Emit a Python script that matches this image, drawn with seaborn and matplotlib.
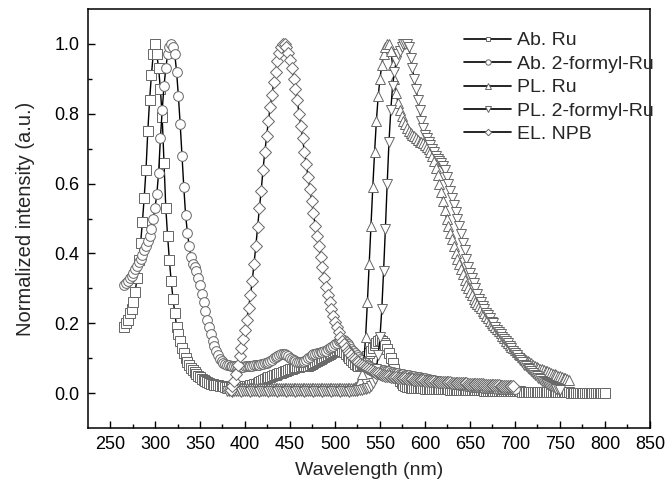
import matplotlib
matplotlib.use('Agg')
import matplotlib.pyplot as plt
import numpy as np
import seaborn as sns
from matplotlib.ticker import FixedLocator

ab_ru_start = 266
ab_ru = [
    0.19, 0.20, 0.21, 0.23, 0.24, 0.26, 0.29, 0.33, 0.38, 0.43, 0.49, 0.56, 0.64, 0.75, 0.84, 0.91, 0.97, 1.0,
    0.97, 0.93, 0.87, 0.79, 0.66, 0.53, 0.45, 0.38, 0.32, 0.27, 0.23, 0.19, 0.17, 0.15, 0.13, 0.115, 0.10, 0.09, 0.08, 0.073,
    0.066, 0.06, 0.055, 0.05, 0.045, 0.041, 0.037, 0.034, 0.031, 0.029, 0.027, 0.025, 0.024, 0.023, 0.022, 0.021, 0.02, 0.02, 0.019, 0.019,
    0.018, 0.018, 0.018, 0.018, 0.018, 0.018, 0.018, 0.019, 0.019, 0.02, 0.02, 0.021, 0.022, 0.023, 0.025, 0.027, 0.03, 0.033, 0.036, 0.039,
    0.041, 0.043, 0.045, 0.047, 0.049, 0.051, 0.053, 0.055, 0.057, 0.058, 0.06, 0.062, 0.064, 0.066, 0.068, 0.07, 0.072, 0.074, 0.075, 0.076,
    0.077, 0.077, 0.077, 0.077, 0.078, 0.08, 0.083, 0.086, 0.089, 0.092, 0.095, 0.098, 0.101, 0.104, 0.107, 0.11, 0.113, 0.116, 0.119, 0.121,
    0.123, 0.124, 0.124, 0.122, 0.118, 0.113, 0.107, 0.1, 0.094, 0.088, 0.083, 0.08, 0.079, 0.08, 0.084, 0.09, 0.098, 0.106, 0.114, 0.122,
    0.13, 0.138, 0.145, 0.15, 0.152, 0.15, 0.145, 0.137, 0.127, 0.115, 0.1, 0.085, 0.07, 0.056, 0.045, 0.036, 0.029, 0.024, 0.02, 0.018,
    0.017, 0.016, 0.016, 0.015, 0.015, 0.015, 0.014, 0.014, 0.014, 0.013, 0.013, 0.013, 0.013, 0.012, 0.012, 0.012, 0.012, 0.012, 0.011, 0.011,
    0.011, 0.011, 0.011, 0.010, 0.010, 0.010, 0.010, 0.010, 0.010, 0.009, 0.009, 0.009, 0.009, 0.009, 0.009, 0.008, 0.008, 0.008, 0.008, 0.008,
    0.008, 0.008, 0.007, 0.007, 0.007, 0.007, 0.007, 0.007, 0.006, 0.006, 0.006, 0.006, 0.006, 0.006, 0.006, 0.005, 0.005, 0.005, 0.005, 0.005,
    0.005, 0.005, 0.005, 0.004, 0.004, 0.004, 0.004, 0.004, 0.004, 0.004, 0.003, 0.003, 0.003, 0.003, 0.003, 0.003, 0.003, 0.003, 0.002, 0.002,
    0.002, 0.002, 0.002, 0.002, 0.002, 0.002, 0.002, 0.002, 0.002, 0.002, 0.001, 0.001, 0.001, 0.001, 0.001, 0.001, 0.001, 0.001, 0.001, 0.001,
    0.001, 0.001, 0.001, 0.001, 0.0, 0.0, 0.0, 0.0, 0.0, 0.0,
]

ab_2f_start = 266
ab_2f = [
    0.31, 0.315, 0.32, 0.33, 0.335, 0.345, 0.355, 0.365, 0.375, 0.385, 0.395, 0.41, 0.42, 0.435, 0.45, 0.47, 0.50, 0.53,
    0.57, 0.63, 0.73, 0.81, 0.88, 0.93, 0.97, 0.99, 1.0, 0.99, 0.97, 0.92, 0.85, 0.77, 0.68, 0.59, 0.51, 0.46, 0.42, 0.39,
    0.37, 0.36, 0.35, 0.33, 0.31, 0.285, 0.26, 0.235, 0.21, 0.19, 0.17, 0.15, 0.135, 0.12, 0.108, 0.098, 0.092, 0.087, 0.084, 0.082,
    0.08, 0.079, 0.078, 0.077, 0.077, 0.076, 0.076, 0.076, 0.076, 0.077, 0.077, 0.078, 0.078, 0.079, 0.08, 0.08, 0.081, 0.082, 0.083, 0.084,
    0.085, 0.087, 0.09, 0.093, 0.096, 0.1, 0.104, 0.107, 0.11, 0.112, 0.113, 0.112, 0.11, 0.106, 0.102, 0.098, 0.094, 0.091, 0.089, 0.088,
    0.088, 0.089, 0.092, 0.096, 0.1, 0.104, 0.108, 0.111, 0.113, 0.115, 0.116, 0.117, 0.118, 0.12, 0.122, 0.125, 0.128, 0.132, 0.136, 0.14,
    0.144, 0.148, 0.151, 0.152, 0.151, 0.147, 0.141, 0.134, 0.127, 0.12, 0.114, 0.108, 0.103, 0.098, 0.094, 0.09, 0.086, 0.082, 0.078, 0.075,
    0.073, 0.071, 0.069, 0.068, 0.067, 0.066, 0.065, 0.064, 0.063, 0.062, 0.061, 0.06, 0.059, 0.058, 0.057, 0.056, 0.055, 0.054, 0.053, 0.052,
    0.051, 0.05, 0.049, 0.048, 0.047, 0.046, 0.045, 0.044, 0.043, 0.042, 0.041, 0.04, 0.039, 0.038, 0.037, 0.036, 0.035, 0.034, 0.033, 0.032,
    0.031, 0.03, 0.029, 0.028, 0.027, 0.026, 0.026, 0.025, 0.024, 0.023, 0.023, 0.022, 0.021, 0.021, 0.02, 0.019, 0.019, 0.018, 0.018, 0.017,
    0.017, 0.016, 0.016, 0.015, 0.015, 0.015, 0.014, 0.014, 0.014, 0.013, 0.013, 0.013, 0.012, 0.012, 0.012, 0.012, 0.011, 0.011, 0.011, 0.011,
]

pl_ru_start = 380
pl_ru = [
    0.015, 0.016, 0.015, 0.014, 0.015, 0.016, 0.015, 0.015, 0.014, 0.015, 0.016, 0.015, 0.015, 0.014, 0.015, 0.016, 0.015, 0.015, 0.014, 0.015,
    0.016, 0.015, 0.015, 0.014, 0.015, 0.016, 0.015, 0.015, 0.014, 0.015, 0.016, 0.015, 0.015, 0.014, 0.015, 0.016, 0.015, 0.015, 0.014, 0.015,
    0.016, 0.015, 0.015, 0.014, 0.015, 0.016, 0.015, 0.015, 0.014, 0.015, 0.016, 0.015, 0.015, 0.014, 0.015, 0.016, 0.015, 0.015, 0.014, 0.015,
    0.016, 0.015, 0.015, 0.014, 0.015, 0.016, 0.015, 0.015, 0.014, 0.015, 0.016,
    0.017, 0.02, 0.025, 0.035, 0.055, 0.09, 0.16, 0.26, 0.37, 0.48, 0.59, 0.69, 0.78, 0.85, 0.9, 0.94, 0.97, 0.99, 1.0, 1.0,
    0.98, 0.94, 0.9, 0.86, 0.83, 0.81, 0.795, 0.78, 0.77, 0.76, 0.75, 0.745, 0.74, 0.735, 0.73, 0.725, 0.72, 0.72, 0.715, 0.71,
    0.705, 0.7, 0.69, 0.68, 0.665, 0.645, 0.625, 0.6, 0.575, 0.55, 0.525, 0.5, 0.48, 0.46, 0.44, 0.42, 0.4, 0.385, 0.37, 0.355,
    0.34, 0.325, 0.31, 0.3, 0.29, 0.28, 0.27, 0.262, 0.255, 0.25, 0.243, 0.236, 0.229, 0.222, 0.215, 0.208, 0.201, 0.195, 0.19, 0.185,
    0.178, 0.171, 0.164, 0.157, 0.15, 0.144, 0.138, 0.133, 0.128, 0.123, 0.118, 0.113, 0.108, 0.104, 0.1, 0.096, 0.092, 0.088, 0.085, 0.082,
    0.079, 0.076, 0.073, 0.07, 0.068, 0.066, 0.064, 0.062, 0.06, 0.058, 0.056, 0.054, 0.052, 0.05, 0.048, 0.046, 0.044, 0.042, 0.04, 0.038,
]

pl_2f_start = 380
pl_2f = [
    0.005, 0.006, 0.005, 0.004, 0.005, 0.006, 0.005, 0.005, 0.004, 0.005, 0.006, 0.005, 0.005, 0.004, 0.005, 0.006, 0.005, 0.005, 0.004, 0.005,
    0.006, 0.005, 0.005, 0.004, 0.005, 0.006, 0.005, 0.005, 0.004, 0.005, 0.006, 0.005, 0.005, 0.004, 0.005, 0.006, 0.005, 0.005, 0.004, 0.005,
    0.006, 0.005, 0.005, 0.004, 0.005, 0.006, 0.005, 0.005, 0.004, 0.005, 0.006, 0.005, 0.005, 0.004, 0.005, 0.006, 0.005, 0.005, 0.004, 0.005,
    0.006, 0.005, 0.005, 0.004, 0.005, 0.006, 0.005, 0.005, 0.004, 0.005, 0.006, 0.006, 0.007, 0.008, 0.009, 0.01, 0.011, 0.012, 0.014, 0.016,
    0.02, 0.03, 0.04, 0.07, 0.11, 0.16, 0.24, 0.35, 0.47, 0.6, 0.72, 0.81, 0.88, 0.92, 0.95, 0.97, 0.98, 0.99, 1.0, 1.0,
    1.0, 0.99, 0.96, 0.93, 0.9, 0.87, 0.84, 0.81, 0.78, 0.76, 0.74, 0.73, 0.72, 0.71, 0.7, 0.69, 0.68, 0.67, 0.665, 0.66,
    0.65, 0.64, 0.62, 0.6, 0.58, 0.56, 0.54, 0.52, 0.5, 0.48, 0.455, 0.43, 0.41, 0.385, 0.36, 0.345, 0.33, 0.315, 0.3, 0.285,
    0.27, 0.26, 0.25, 0.24, 0.23, 0.225, 0.215, 0.205, 0.2, 0.19, 0.18, 0.175, 0.168, 0.16, 0.155, 0.15, 0.143, 0.135, 0.128, 0.12,
    0.114, 0.108, 0.1, 0.094, 0.088, 0.082, 0.077, 0.072, 0.068, 0.063, 0.058, 0.053, 0.048, 0.044, 0.04, 0.036, 0.032, 0.029, 0.026, 0.023,
    0.02, 0.017, 0.015, 0.013, 0.011, 0.01,
]

el_npb_start = 384
el_npb = [
    0.01, 0.02, 0.035, 0.055, 0.08, 0.105, 0.13, 0.155, 0.18, 0.21, 0.245, 0.28, 0.32, 0.37, 0.42, 0.475, 0.53, 0.58,
    0.64, 0.69, 0.735, 0.78, 0.82, 0.855, 0.89, 0.92, 0.95, 0.975, 0.99, 1.0, 1.0, 0.99, 0.975, 0.955, 0.93, 0.9, 0.87, 0.84,
    0.8, 0.765, 0.73, 0.69, 0.655, 0.62, 0.585, 0.55, 0.515, 0.48, 0.45, 0.42, 0.39, 0.36, 0.33, 0.305, 0.28, 0.26, 0.24, 0.22,
    0.205, 0.19, 0.175, 0.162, 0.15, 0.14, 0.13, 0.122, 0.115, 0.108, 0.102, 0.097, 0.092, 0.088, 0.084, 0.08, 0.077, 0.074, 0.071, 0.068,
    0.065, 0.063, 0.061, 0.059, 0.057, 0.055, 0.053, 0.052, 0.05, 0.049, 0.048, 0.047, 0.046, 0.045, 0.045, 0.044, 0.043, 0.043, 0.042, 0.042,
    0.041, 0.041, 0.04, 0.04, 0.039, 0.039, 0.038, 0.038, 0.037, 0.037, 0.036, 0.036, 0.035, 0.035, 0.034, 0.034, 0.033, 0.033, 0.033, 0.032,
    0.032, 0.032, 0.031, 0.031, 0.031, 0.03, 0.03, 0.03, 0.029, 0.029, 0.029, 0.028, 0.028, 0.028, 0.027, 0.027, 0.027, 0.026, 0.026, 0.026,
    0.025, 0.025, 0.025, 0.024, 0.024, 0.024, 0.023, 0.023, 0.023, 0.022, 0.022, 0.022, 0.021, 0.021, 0.021, 0.02, 0.02, 0.02, 0.02, 0.02,
]

labels = ['Ab. Ru', 'Ab. 2-formyl-Ru', 'PL. Ru', 'PL. 2-formyl-Ru', 'EL. NPB']
starts = [ab_ru_start, ab_2f_start, pl_ru_start, pl_2f_start, el_npb_start]
values = [ab_ru, ab_2f, pl_ru, pl_2f, el_npb]
markers = ['s', 'o', '^', 'v', 'D']
msizes = [6.5, 7, 7.5, 7.5, 6]

sns.set_style('ticks')
plt.rcParams['font.family'] = ['Liberation Sans', 'DejaVu Sans']

fig = plt.figure(figsize=(6.68, 4.87), dpi=100)
ax = fig.add_axes([0.131, 0.121, 0.842, 0.8605])

for lab, st, vals, mk, ms in zip(labels, starts, values, markers, msizes):
    wl = st + 2 * np.arange(len(vals))
    sns.lineplot(x=wl, y=vals, ax=ax, label=lab, color='black', lw=1.0,
                 marker=mk, markersize=ms, markerfacecolor='white',
                 markeredgecolor='#666666', markeredgewidth=0.7,
                 estimator=None, sort=False)

ax.set_xlim(225, 850)
ax.set_ylim(-0.1, 1.1)
ax.set_xticks(np.arange(250, 851, 50))
ax.set_yticks([0.0, 0.2, 0.4, 0.6, 0.8, 1.0])
ax.set_yticklabels(['0.0', '0.2', '0.4', '0.6', '0.8', '1.0'])
ax.xaxis.set_minor_locator(FixedLocator(np.arange(275, 850, 50)))
ax.yaxis.set_minor_locator(FixedLocator([0.1, 0.3, 0.5, 0.7, 0.9]))
ax.tick_params(which='both', direction='in', width=1.0, colors='black', labelsize=13, pad=6)
ax.tick_params(which='major', length=5)
ax.tick_params(which='minor', length=3)
for sp in ax.spines.values():
    sp.set_linewidth(1.1)
    sp.set_color('black')

ax.set_xlabel('Wavelength (nm)', fontsize=14, labelpad=6)
ax.set_ylabel('Normalized intensity (a.u.)', fontsize=14.5, labelpad=14)

leg = ax.legend(loc='upper right', bbox_to_anchor=(1.02, 0.964), frameon=False,
                fontsize=14, handlelength=2.4, handletextpad=0.3, labelspacing=0.3,
                borderaxespad=0, markerscale=0.55, numpoints=1)
for h in leg.legend_handles:
    h.set_linewidth(1.2)

fig.savefig('out.png', dpi=100)
